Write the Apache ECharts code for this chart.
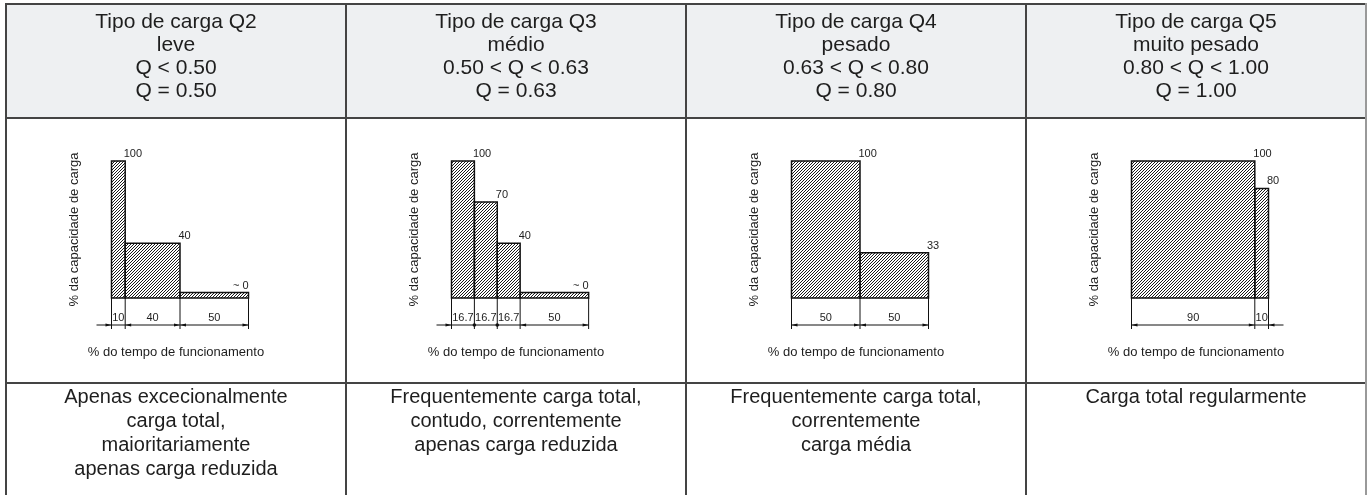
<!DOCTYPE html>
<html>
<head>
<meta charset="utf-8">
<script src="https://cdn.jsdelivr.net/npm/echarts@6/dist/echarts.min.js"></script>
<style>
html, body { margin: 0; padding: 0; background: #fff; }
#chart { width: 1368px; height: 495px; }
</style>
</head>
<body>
<div id="chart"></div>
<script>
// textos das colunas
const cabecalhoQ2 = ['Tipo de carga Q2', 'leve', 'Q < 0.50', 'Q = 0.50'];
const cabecalhoQ3 = ['Tipo de carga Q3', 'médio', '0.50 < Q < 0.63', 'Q = 0.63'];
const cabecalhoQ4 = ['Tipo de carga Q4', 'pesado', '0.63 < Q < 0.80', 'Q = 0.80'];
const cabecalhoQ5 = ['Tipo de carga Q5', 'muito pesado', '0.80 < Q < 1.00', 'Q = 1.00'];

const descricaoQ2 = ['Apenas excecionalmente', 'carga total,', 'maioritariamente', 'apenas carga reduzida'];
const descricaoQ3 = ['Frequentemente carga total,', 'contudo, correntemente', 'apenas carga reduzida'];
const descricaoQ4 = ['Frequentemente carga total,', 'correntemente', 'carga média'];
const descricaoQ5 = ['Carga total regularmente'];

const nomeEixoY = '% da capacidade de carga';
const nomeEixoX = '% do tempo de funcionamento';

// % do tempo de funcionamento (larguras) e % da capacidade de carga (alturas)
const tempoQ2 = [10, 40, 50];
const cargaQ2 = [100, 40, 4];
const rotuloQ2 = ['100', '40', '~ 0'];
const cotaQ2 = ['10', '40', '50'];

const tempoQ3 = [16.7, 16.7, 16.7, 50];
const cargaQ3 = [100, 70, 40, 4];
const rotuloQ3 = ['100', '70', '40', '~ 0'];
const cotaQ3 = ['16.7', '16.7', '16.7', '50'];

const tempoQ4 = [50, 50];
const cargaQ4 = [100, 33];
const rotuloQ4 = ['100', '33'];
const cotaQ4 = ['50', '50'];

const tempoQ5 = [90, 10];
const cargaQ5 = [100, 80];
const rotuloQ5 = ['100', '80'];
const cotaQ5 = ['90', '10'];

const paineis = [
  { cab: cabecalhoQ2, desc: descricaoQ2, tempo: tempoQ2, carga: cargaQ2, rotulo: rotuloQ2, cota: cotaQ2 },
  { cab: cabecalhoQ3, desc: descricaoQ3, tempo: tempoQ3, carga: cargaQ3, rotulo: rotuloQ3, cota: cotaQ3 },
  { cab: cabecalhoQ4, desc: descricaoQ4, tempo: tempoQ4, carga: cargaQ4, rotulo: rotuloQ4, cota: cotaQ4 },
  { cab: cabecalhoQ5, desc: descricaoQ5, tempo: tempoQ5, carga: cargaQ5, rotulo: rotuloQ5, cota: cotaQ5 }
];

const FONT = '"Liberation Sans", Arial, sans-serif';
const TXT = '#1e1e1e';

// hachura
const cv = document.createElement('canvas');
cv.width = 6; cv.height = 6;
const cx = cv.getContext('2d');
cx.strokeStyle = '#1a1a1a';
cx.lineWidth = 1;
cx.beginPath();
[-6, -3, 0, 3, 6, 9].forEach(function (o) {
  cx.moveTo(o, 6); cx.lineTo(o + 6, 0);
});
cx.stroke();
const hachura = { image: cv, repeat: 'repeat' };

function linha(x1, y1, x2, y2, w) {
  return { type: 'line', shape: { x1: x1, y1: y1, x2: x2, y2: y2 }, style: { stroke: '#111', lineWidth: w || 1 } };
}
function seta(x, y, d) {
  return { type: 'polygon', shape: { points: [[x, y], [x - 6 * d, y - 1.6], [x - 6 * d, y + 1.6]] }, style: { fill: '#111' } };
}

function renderBarra(rotulos) {
  return function (params, api) {
    const p0 = api.coord([api.value(0), 0]);
    const p1 = api.coord([api.value(1), api.value(2)]);
    const txt = rotulos[params.dataIndex];
    const til = txt.charAt(0) === '~';
    return {
      type: 'group',
      children: [
        {
          type: 'rect',
          shape: { x: p0[0], y: p1[1], width: p1[0] - p0[0], height: p0[1] - p1[1] },
          style: { fill: hachura, stroke: '#111', lineWidth: 1.5 }
        },
        {
          type: 'text',
          x: til ? p1[0] : p1[0] - 1.5,
          y: p1[1] - 7,
          style: { text: txt, fill: TXT, font: '11px ' + FONT, align: til ? 'right' : 'left', verticalAlign: 'middle' }
        }
      ]
    };
  };
}

function renderCota(tempo, cotas) {
  const n = tempo.length;
  const estreito = tempo.map(function (w) { return w < 25; });
  return function (params, api) {
    const i = params.dataIndex;
    const a = api.coord([api.value(0), 0]);
    const b = api.coord([api.value(1), 0]);
    const base = a[1];
    const yl = base + 27;
    const ch = [linha(a[0], base, a[0], yl + 4)];
    if (i === n - 1) ch.push(linha(b[0], base, b[0], yl + 4));
    let xs = a[0], xe = b[0];
    if (estreito[i]) {
      if (i === 0) { xs = a[0] - 15; ch.push(seta(a[0], yl, 1)); }
      if (i === n - 1) { xe = b[0] + 15; ch.push(seta(b[0], yl, -1)); }
      if (i > 0 && estreito[i - 1]) ch.push({ type: 'circle', shape: { cx: a[0], cy: yl, r: 1.8 }, style: { fill: '#111' } });
    } else {
      ch.push(seta(a[0], yl, -1));
      ch.push(seta(b[0], yl, 1));
    }
    ch.push(linha(xs, yl, xe, yl));
    ch.push({
      type: 'text', x: (a[0] + b[0]) / 2, y: yl - 7,
      style: { text: cotas[i], fill: TXT, font: '11px ' + FONT, align: 'center', verticalAlign: 'middle' }
    });
    return { type: 'group', children: ch };
  };
}

const grids = [], xAxes = [], yAxes = [], series = [], graphic = [];
const COL = 340, X0 = 6;

graphic.push({ type: 'rect', shape: { x: X0, y: 4, width: 1360, height: 114 }, style: { fill: '#eef0f2' }, z: 0 });

paineis.forEach(function (p, k) {
  const colX = X0 + COL * k;
  const mid = colX + COL / 2;
  grids.push({ left: colX + 105.5, top: 161, width: 137, height: 137 });
  xAxes.push({ type: 'value', gridIndex: k, min: 0, max: 100, show: false });
  yAxes.push({
    type: 'value', gridIndex: k, min: 0, max: 100,
    axisLine: { show: false }, axisTick: { show: false }, axisLabel: { show: false }, splitLine: { show: false },
    name: nomeEixoY, nameLocation: 'middle', nameRotate: 90, nameGap: 31,
    nameTextStyle: { fontSize: 13, color: TXT, fontFamily: FONT }
  });

  let acc = 0;
  const barras = [], cotas = [];
  p.tempo.forEach(function (w, j) {
    barras.push([acc, acc + w, p.carga[j]]);
    cotas.push([acc, acc + w]);
    acc += w;
  });

  series.push({
    type: 'custom', xAxisIndex: k, yAxisIndex: k, clip: false, silent: true,
    renderItem: renderBarra(p.rotulo), data: barras, z: 3
  });
  series.push({
    type: 'custom', xAxisIndex: k, yAxisIndex: k, clip: false, silent: true,
    renderItem: renderCota(p.tempo, p.cota), data: cotas, z: 3
  });

  graphic.push({
    type: 'text', x: mid, y: 10.5, z: 5,
    style: { text: p.cab.join('\n'), fill: TXT, font: '21px ' + FONT, lineHeight: 23, align: 'center', verticalAlign: 'top' }
  });
  graphic.push({
    type: 'text', x: mid, y: 352, z: 5,
    style: { text: nomeEixoX, fill: TXT, font: '13px ' + FONT, align: 'center', verticalAlign: 'middle' }
  });
  graphic.push({
    type: 'text', x: mid, y: 385, z: 5,
    style: { text: p.desc.join('\n'), fill: TXT, font: '20px ' + FONT, lineHeight: 24, align: 'center', verticalAlign: 'top' }
  });
});

// bordas da tabela
const borda = { stroke: '#444', lineWidth: 2 };
graphic.push({ type: 'line', shape: { x1: X0, y1: 4, x2: 1366, y2: 4 }, style: borda, z: 10 });
graphic.push({ type: 'line', shape: { x1: X0, y1: 118, x2: 1366, y2: 118 }, style: borda, z: 10 });
graphic.push({ type: 'line', shape: { x1: X0, y1: 383, x2: 1366, y2: 383 }, style: borda, z: 10 });
[0, 1, 2, 3].forEach(function (k) {
  const x = X0 + COL * k;
  graphic.push({ type: 'line', shape: { x1: x, y1: 3, x2: x, y2: 495 }, style: borda, z: 10 });
});
graphic.push({ type: 'line', shape: { x1: 1366, y1: 3, x2: 1366, y2: 495 }, style: { stroke: '#999', lineWidth: 2 }, z: 10 });

const chart = echarts.init(document.getElementById('chart'));
chart.setOption({
  animation: false,
  backgroundColor: '#fff',
  grid: grids,
  xAxis: xAxes,
  yAxis: yAxes,
  graphic: graphic,
  series: series
});
</script>
</body>
</html>
